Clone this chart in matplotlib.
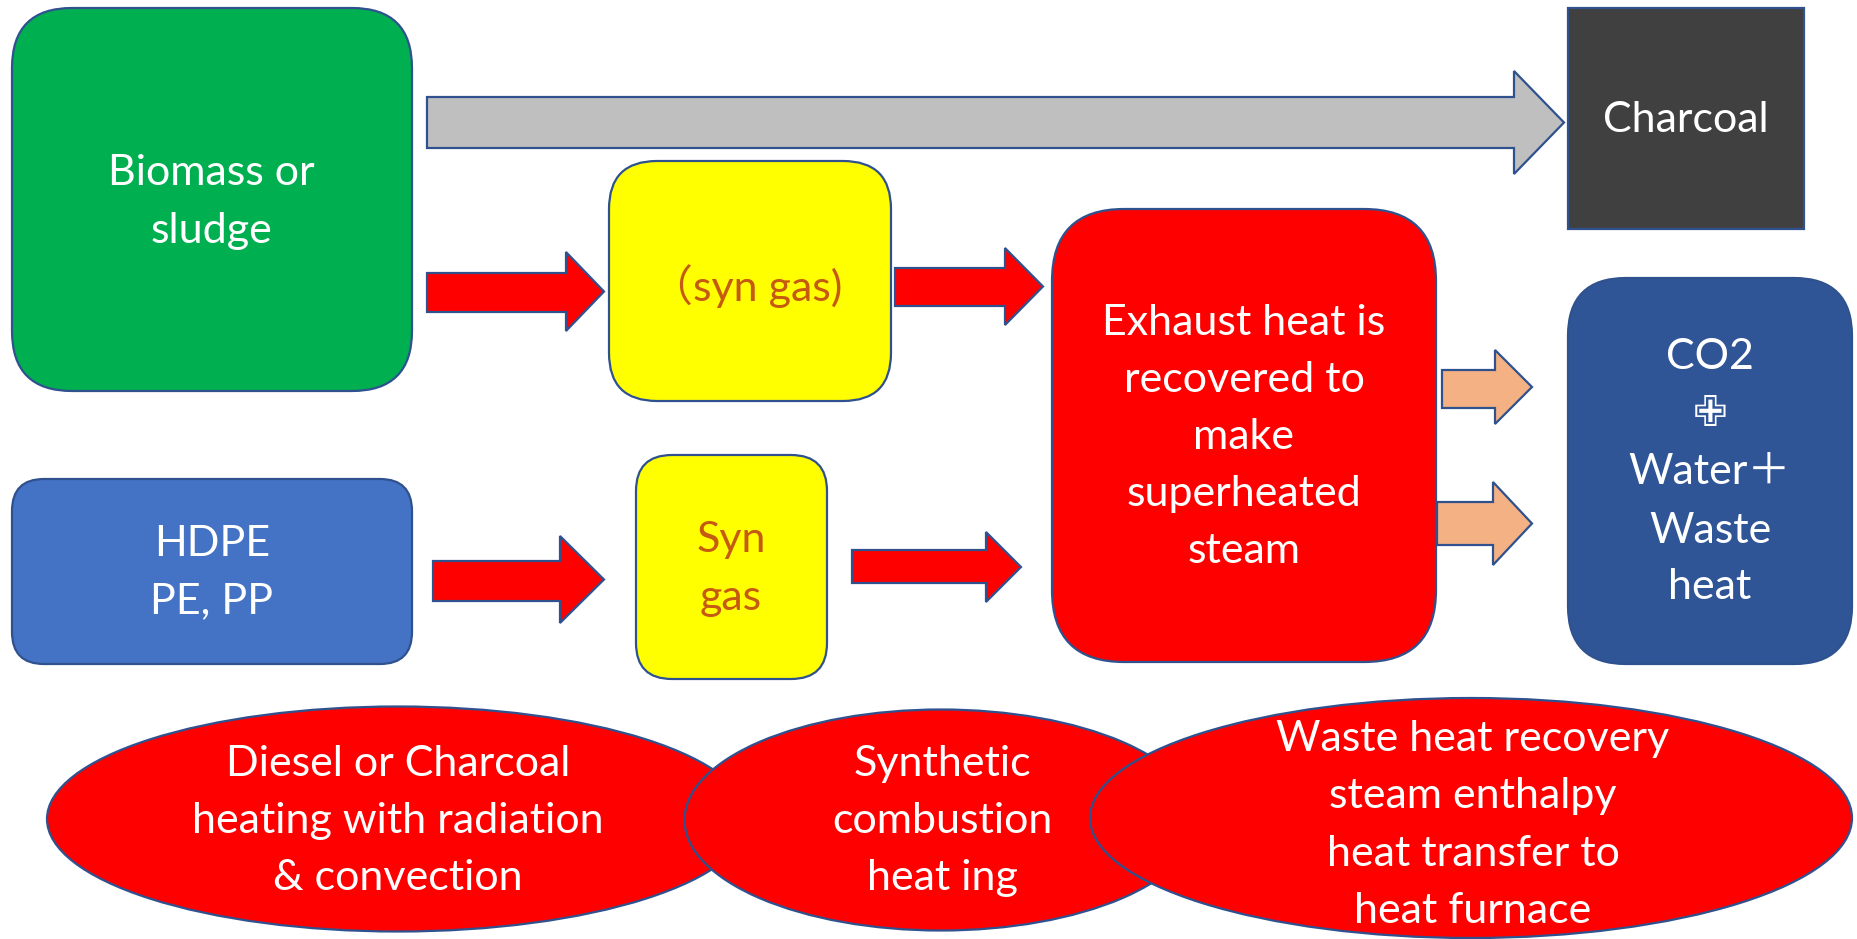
import matplotlib
matplotlib.use("Agg")
import matplotlib.pyplot as plt
from matplotlib.patches import FancyBboxPatch, Polygon, Ellipse, Rectangle

W, H = 1858, 939
EDGE = "#2F528F"

# ---- node labels ----
box_labels = ["Biomass or\nsludge", "（syn gas)", "Exhaust heat is\nrecovered to\nmake\nsuperheated\nsteam",
              "HDPE\nPE, PP", "Syn\ngas"]
box_colors = ["#00B050", "#FFFF00", "#FF0000", "#4472C4", "#FFFF00"]
box_text_colors = ["white", "#C55A11", "white", "white", "#C55A11"]
# x0, y0, x1, y1, corner radius
box_geom = [(12, 8, 412, 391, 60), (609, 161, 891, 401, 48), (1052, 209, 1436, 662, 72),
            (12, 479, 412, 664, 32), (636, 455, 827, 679, 36)]

charcoal_label = "Charcoal"
products_lines = ["CO2", "✙", "Water＋", "Waste", "heat"]

ellipse_labels = ["Diesel or Charcoal\nheating with radiation\n& convection",
                  "Synthetic\ncombustion\nheat ing",
                  "Waste heat recovery\nsteam enthalpy\nheat transfer to\nheat furnace"]
ellipse_geom = [(398, 819, 702, 225), (941, 820, 513, 221), (1471, 818, 762, 240)]

# arrows: x_start, body_top, body_bot, head_x, head_top, head_bot, tip_x, color
arrow_geom = [
    (427, 97, 148, 1514, 71, 174, 1564, "#BFBFBF"),
    (427, 273, 312, 566, 252, 331, 604, "#FF0000"),
    (895, 268, 306, 1005, 248, 325, 1043, "#FF0000"),
    (433, 561, 601, 560, 536, 623, 604, "#FF0000"),
    (852, 550, 583, 986, 532, 602, 1021, "#FF0000"),
    (1442, 370, 408, 1495, 350, 424, 1532, "#F4B183"),
    (1437, 502, 545, 1493, 482, 565, 1532, "#F4B183"),
]

fig = plt.figure(figsize=(W / 100, H / 100), dpi=100)
ax = fig.add_axes([0, 0, 1, 1])
ax.set_xlim(0, W)
ax.set_ylim(H, 0)
ax.axis("off")

FONT = ["Lato", "Noto Sans CJK SC", "DejaVu Sans"]
FS = 31
LS = 1.62

for (x0, y0, x1, y1, r), c in zip(box_geom, box_colors):
    ax.add_patch(FancyBboxPatch((x0, y0), x1 - x0, y1 - y0,
                                boxstyle=f"round,pad=0,rounding_size={r}",
                                fc=c, ec=EDGE, lw=1.6, zorder=2))

# text centers
box_text_pos = [(211, 202), (746, 286), (1244, 437), (212, 573), (731, 569)]
for (tx, ty), lab, tc in zip(box_text_pos, box_labels, box_text_colors):
    ax.text(tx, ty, lab, ha="center", va="center", color=tc, fontsize=FS,
            family=FONT, linespacing=LS, zorder=5)

# charcoal box
ax.add_patch(Rectangle((1568, 8), 1804 - 1568, 229 - 8, fc="#404040", ec=EDGE, lw=1.6, zorder=2))
ax.text(1686, 120, charcoal_label, ha="center", va="center", color="white",
        fontsize=FS, family=FONT, zorder=5)

# products box
ax.add_patch(FancyBboxPatch((1568, 278), 1852 - 1568, 664 - 278,
                            boxstyle="round,pad=0,rounding_size=58",
                            fc="#2F5597", ec=EDGE, lw=1.6, zorder=2))
prod_y = [357, 414, 472, 531, 587]
for ln, y in zip(products_lines, prod_y):
    if ln == "✙":
        ax.text(1710, y, ln, ha="center", va="center", color="white",
                fontsize=30, family=["DejaVu Sans"], fontweight="bold", zorder=5)
    else:
        ax.text(1710, y, ln, ha="center", va="center", color="white",
                fontsize=FS, family=FONT, zorder=5)

# arrows
for xs, bt, bb, hx, ht, hb, tip, c in arrow_geom:
    mid = (ht + hb) / 2
    pts = [(xs, bt), (hx, bt), (hx, ht), (tip, mid), (hx, hb), (hx, bb), (xs, bb)]
    ax.add_patch(Polygon(pts, closed=True, fc=c, ec=EDGE, lw=1.6, zorder=3))

# ellipses
for (cx, cy, ew, eh), lab in zip(ellipse_geom, ellipse_labels):
    ax.add_patch(Ellipse((cx, cy), ew, eh, fc="#FF0000", ec=EDGE, lw=1.6, zorder=2))
ell_text_pos = [(398, 821), (942, 821), (1473, 825)]
for (tx, ty), lab in zip(ell_text_pos, ellipse_labels):
    ax.text(tx, ty, lab, ha="center", va="center", color="white", fontsize=FS,
            family=FONT, linespacing=LS, zorder=6)

fig.savefig("out.png", dpi=100)
